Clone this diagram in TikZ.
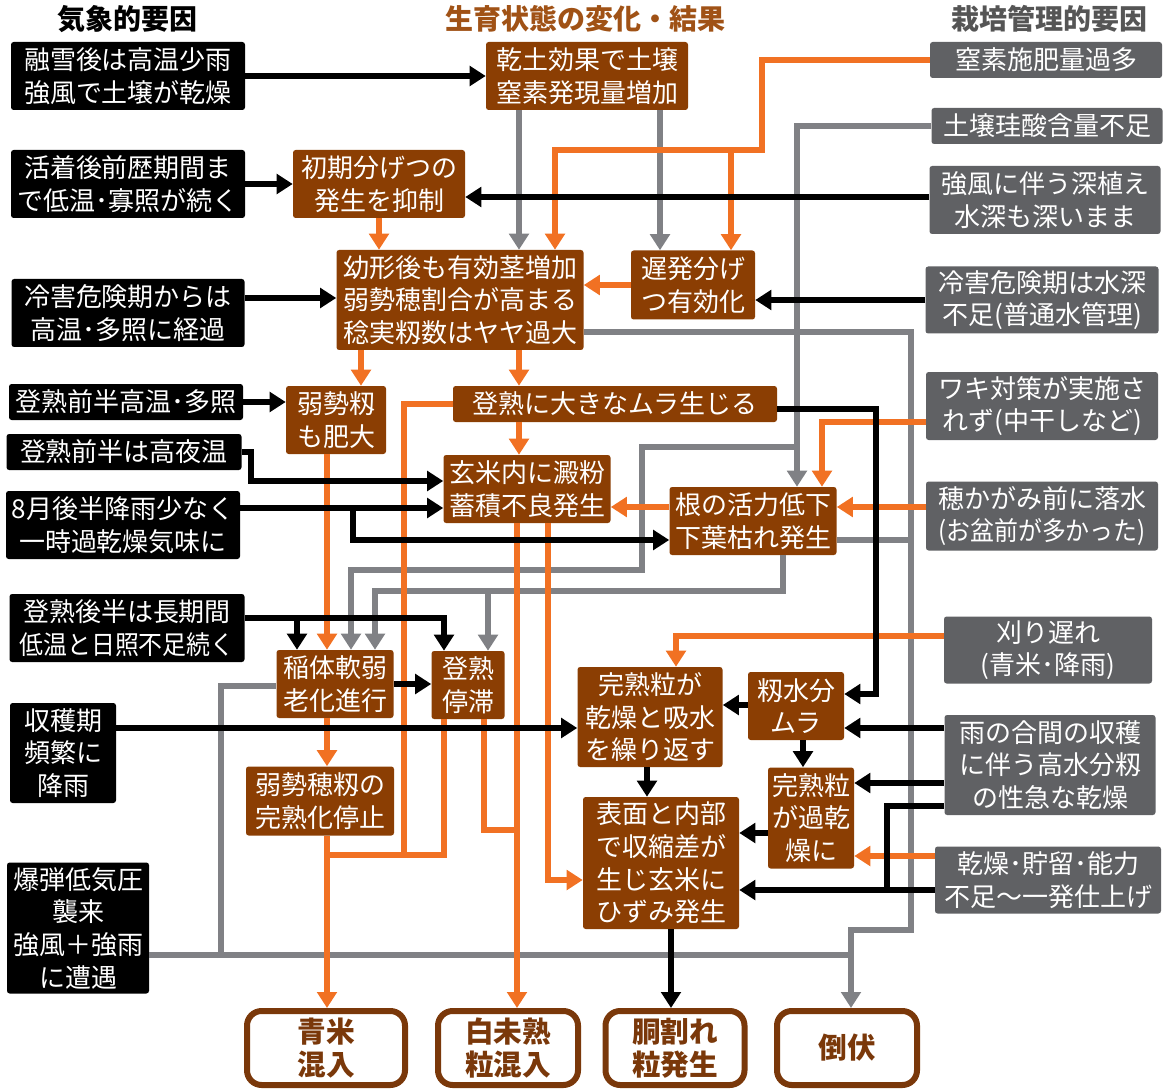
\documentclass[tikz,border=0pt]{standalone}
\usepackage{fontspec}
\setmainfont{Noto Sans CJK JP}
\usepackage{graphicx}
\usepackage{xcolor}
\usepackage{tikz}
\usetikzlibrary{arrows.meta}
\definecolor{cBrown}{RGB}{139,62,3}
\definecolor{cOrange}{RGB}{241,113,35}
\definecolor{cLine}{RGB}{128,129,133}
\definecolor{cGbox}{RGB}{96,97,100}
\definecolor{cHead}{RGB}{160,82,22}
\definecolor{cHgray}{RGB}{85,85,85}
\definecolor{cRes}{RGB}{122,56,10}
\newcommand{\sqz}[1]{\scalebox{0.92}[1]{#1}}

\begin{document}
\begin{tikzpicture}[x=0.75pt,y=-0.75pt,
  >={Triangle[width=14.5pt,length=12pt]},
  sz/.style 2 args={minimum width=#1*0.75pt,minimum height=#2*0.75pt},
  box/.style={inner sep=0pt,rounded corners=2pt,text=white,align=center,
    font=\fontsize{19.5}{24.5}\selectfont},
  wbox/.style={box,fill=black},
  bbox/.style={box,fill=cBrown},
  gbox/.style={box,fill=cGbox},
  rbox/.style={draw=cRes,line width=4.5pt,fill=white,rounded corners=11pt,
    text=cRes,align=center,inner sep=0pt,font=\fontsize{21.5}{25}\selectfont\bfseries},
  head/.style={font=\fontsize{21}{24}\selectfont\bfseries},
  blk/.style={line width=3.9pt,draw=black},
  gry/.style={line width=3.9pt,draw=cLine},
  org/.style={line width=3.9pt,draw=cOrange}]
  \useasboundingbox (0,0) rectangle (1164,1091);

  \node[head] (hw) at (127,19) {気象的要因};
  \node[head,text=cHead] (hm) at (585,19) {生育状態の変化・結果};
  \node[head,text=cHgray] (hc) at (1049,19) {栽培管理的要因};

  \node[wbox,sz={234}{68}] (w1) at (128,76) {融雪後は高温少雨\\強風で土壌が乾燥};
  \node[wbox,sz={234}{68}] (w2) at (128,184) {活着後前歴期間ま\\で低温･寡照が続く};
  \node[wbox,sz={233}{68}] (w3) at (128,313) {冷害危険期からは\\高温･多照に経過};
  \node[wbox,sz={234}{36}] (w4) at (126,402) {登熟前半高温･多照};
  \node[wbox,sz={235}{36}] (w5) at (124,452) {登熟前半は高夜温};
  \node[wbox,sz={234}{68}] (w6) at (123,525) {8月後半降雨少なく\\一時過乾燥気味に};
  \node[wbox,sz={235}{68}] (w7) at (127,628) {登熟後半は長期間\\\sqz{低温と日照不足続く}};
  \node[wbox,sz={106}{100}] (w8) at (63,753) {収穫期\\頻繁に\\降雨};
  \node[wbox,sz={142}{131}] (w9) at (78,928) {爆弾低気圧\\襲来\\強風＋強雨\\に遭遇};

  \node[bbox,sz={202}{68}] (b1) at (587,76) {乾土効果で土壌\\窒素発現量増加};
  \node[bbox,sz={172}{68}] (b2) at (379,184) {初期分げつの\\発生を抑制};
  \node[bbox,sz={247}{100}] (b3) at (460,300) {幼形後も有効茎増加\\弱勢穂割合が高まる\\稔実籾数はヤヤ過大};
  \node[bbox,sz={124}{69}] (b4) at (693,285) {遅発分げ\\つ有効化};
  \node[bbox,sz={100}{68}] (b5) at (336,420) {弱勢籾\\も肥大};
  \node[bbox,sz={324}{36}] (b6) at (615,404) {登熟に大きなムラ生じる};
  \node[bbox,sz={167}{68}] (b7) at (527,489) {玄米内に澱粉\\蓄積不良発生};
  \node[bbox,sz={167}{68}] (b8) at (753,521) {根の活力低下\\下葉枯れ発生};
  \node[bbox,sz={117}{68}] (b9) at (335,684) {稲体軟弱\\老化進行};
  \node[bbox,sz={73}{68}] (b10) at (468,685) {登熟\\停滞};
  \node[bbox,sz={148}{69}] (b11) at (320,801) {弱勢穂籾の\\完熟化停止};
  \node[bbox,sz={145}{100}] (b12) at (650,717) {完熟粒が\\乾燥と吸水\\を繰り返す};
  \node[bbox,sz={96}{68}] (b13) at (796,706) {籾水分\\ムラ};
  \node[bbox,sz={156}{132}] (b14) at (661,863) {表面と内部\\で収縮差が\\生じ玄米に\\ひずみ発生};
  \node[bbox,sz={86}{101}] (b15) at (811,818) {完熟粒\\が過乾\\燥に};

  \node[gbox,sz={232}{36}] (g1) at (1046,60) {窒素施肥量過多};
  \node[gbox,sz={231}{36}] (g2) at (1047,126) {土壌珪酸含量不足};
  \node[gbox,sz={231}{68}] (g3) at (1045,200) {強風に伴う深植え\\水深も深いまま};
  \node[gbox,sz={233}{67}] (g4) at (1042,300) {冷害危険期は水深\\不足(普通水管理)};
  \node[gbox,sz={232}{68}] (g5) at (1042,406) {ワキ対策が実施さ\\れず(中干しなど)};
  \node[gbox,sz={232}{69}] (g6) at (1042,516) {穂かがみ前に落水\\\sqz{(お盆前が多かった)}};
  \node[gbox,sz={208}{67}] (g7) at (1048,650) {刈り遅れ\\(青米･降雨)};
  \node[gbox,sz={211}{100}] (g8) at (1050,765) {雨の合間の収穫\\に伴う高水分籾\\の性急な乾燥};
  \node[gbox,sz={226}{67}] (g9) at (1048,880) {乾燥･貯留･能力\\不足～一発仕上げ};

  \node[rbox,sz={158}{74}] (r1) at (326,1048) {青米\\混入};
  \node[rbox,sz={140}{74}] (r2) at (508,1048) {白未熟\\粒混入};
  \node[rbox,sz={139}{74}] (r3) at (675,1048) {胴割れ\\粒発生};
  \node[rbox,sz={140}{74}] (r4) at (847,1048) {倒伏};

  \draw[gry,->] (b1.south -| 519,0) -- (b3.north -| 519,0);
  \draw[gry,->] (b1.south -| 660,0) -- (b4.north -| 660,0);
  \draw[gry,->] (b3.east |- 0,332) -| (911,930) -| (r4.north -| 851,0);
  \draw[gry] (b8.east |- 0,540) -- (911,540);
  \draw[gry] (w9.east |- 0,955) -- (851,955);
  \draw[gry] (b9.west |- 0,686) -| (221,955);
  \draw[gry,->] (g2.west) -| (b8.north -| 797,0);
  \draw[gry,->] (797,447) -| (642,570) -| (b9.north -| 351,0);
  \draw[gry,->] (b8.south -| 783,0) |- (375,591) -- (b9.north -| 375,0);
  \draw[gry,->] (488,591) -- (b10.north -| 488,0);

  \draw[org,->] (g1.west) -| (762,150) -| (b3.north -| 555,0);
  \draw[org,->] (731,150) -- (b4.north -| 731,0);
  \draw[org,->] (b2.south) -- (b2.south |- b3.north);
  \draw[org,->] (b4.west) -- (b4.west -| b3.east);
  \draw[org,->] (b3.south -| 361,0) -- (b5.north -| 361,0);
  \draw[org,->] (b3.south -| 519,0) -- (b6.north -| 519,0);
  \draw[org,->] (b5.south -| 327,0) -- (b9.north -| 327,0);
  \draw[org,->] (b6.south -| 519,0) -- (b7.north -| 519,0);
  \draw[org] (b6.west) -| (404,855);
  \draw[org] (b10.south -| 444,0) |- (327,855);
  \draw[org,->] (b9.south -| 327,0) -- (b11.north -| 327,0);
  \draw[org,->] (b11.south -| 327,0) -- (r1.north -| 327,0);
  \draw[org] (b10.south -| 484,0) |- (517,830);
  \draw[org,->] (b7.south -| 517,0) -- (r2.north -| 517,0);
  \draw[org,->] (b7.south -| 548,0) |- (b14.west |- 0,880);
  \draw[org,->] (b8.west |- 0,507) -- (b7.east |- 0,507);
  \draw[org,->] (g6.west |- 0,507) -- (b8.east |- 0,507);
  \draw[org,->] (g5.west |- 0,422) -| (b8.north -| 822,0);
  \draw[org,->] (g7.west |- 0,636) -| (b12.north -| 676,0);
  \draw[org,->] (g9.west |- 0,856) -- (b15.east |- 0,856);

  \draw[blk,->] (w1) -- (b1);
  \draw[blk,->] (w2) -- (b2);
  \draw[blk,->] (g3.west |- 0,197) -- (b2.east |- 0,197);
  \draw[blk,->] (g4.west) -- (g4.west -| b4.east);
  \draw[blk,->] (w3.east |- 0,298) -- (b3.west |- 0,298);
  \draw[blk,->] (w4.east) -- (w4.east -| b5.west);
  \draw[blk,->] (w5.east) -| (251,481) -- (b7.west |- 0,481);
  \draw[blk,->] (w6.east |- 0,508) -- (b7.west |- 0,508);
  \draw[blk,->] (353,508) |- (b8.west |- 0,540);
  \draw[blk,->] (w7.east |- 0,618) -| (b10.north -| 444,0);
  \draw[blk,->] (297,618) -- (b9.north -| 297,0);
  \draw[blk,->] (b9.east) -- (b9.east -| b10.west);
  \draw[blk,->] (b6.east |- 0,409) -| (876,694) -- (b13.east |- 0,694);
  \draw[blk,->] (w8.east |- 0,728) -- (b12.west |- 0,728);
  \draw[blk,->] (b13.west |- 0,705) -- (b12.east |- 0,705);
  \draw[blk,->] (g8.west |- 0,728) -- (b13.east |- 0,728);
  \draw[blk,->] (b13.south -| 803,0) -- (b15.north -| 803,0);
  \draw[blk,->] (g8.west |- 0,783) -- (b15.east |- 0,783);
  \draw[blk,->] (g9.west |- 0,890) -- (b14.east |- 0,890);
  \draw[blk] (g8.west |- 0,806) -| (887,890);
  \draw[blk,->] (b15.west |- 0,833) -- (b14.east |- 0,833);
  \draw[blk,->] (b12.south -| 647,0) -- (b14.north -| 647,0);
  \draw[blk,->] (b14.south -| 671,0) -- (r3.north -| 671,0);
\end{tikzpicture}
\end{document}
